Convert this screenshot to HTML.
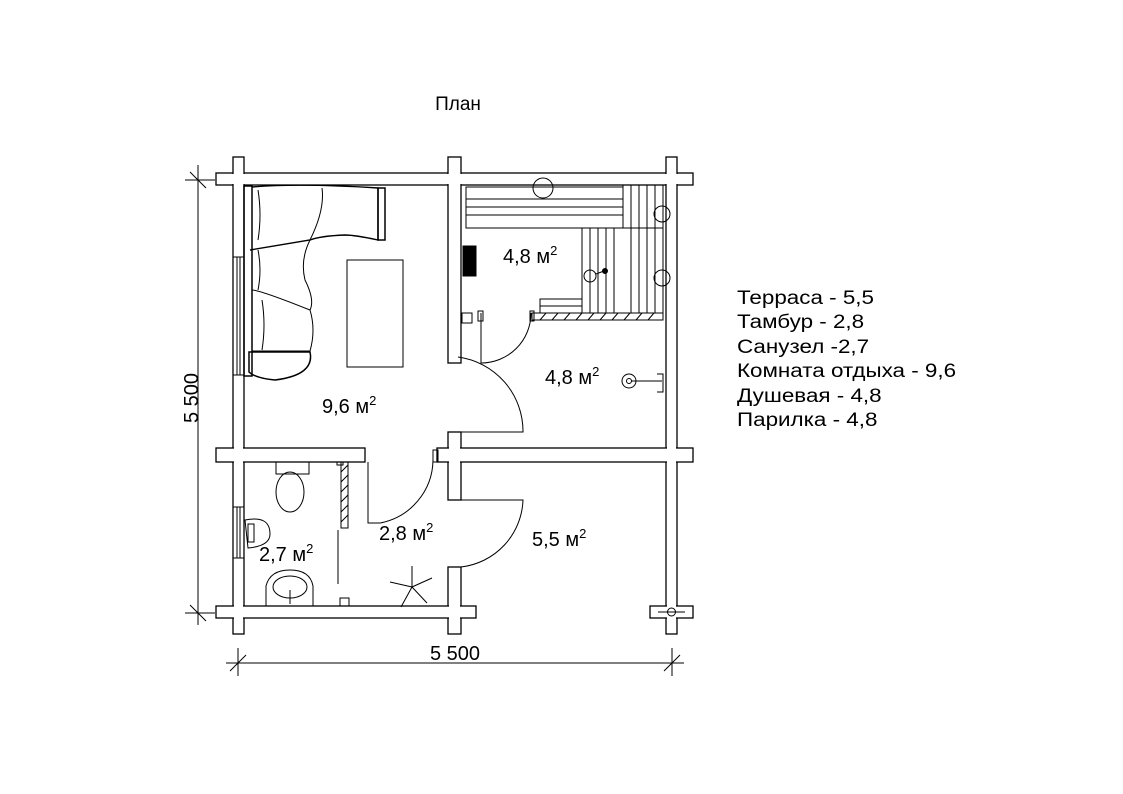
<!DOCTYPE html>
<html><head><meta charset="utf-8"><style>
html,body{margin:0;padding:0;background:#fff;}
svg{display:block;}
text{font-family:"Liberation Sans",Arial,sans-serif;fill:#000;}
</style></head><body>
<svg width="1123" height="794" viewBox="0 0 1123 794" xmlns="http://www.w3.org/2000/svg">
<text x="458" y="110" font-size="19" text-anchor="middle">План</text>

<g fill="#fff" stroke="#000" stroke-width="1.3">
<rect x="216" y="173" width="477" height="12"/>
<rect x="233" y="157" width="11" height="477"/>
<rect x="448" y="157" width="13" height="206"/>
<rect x="448" y="432" width="13" height="68"/>
<rect x="448" y="567" width="13" height="67"/>
<rect x="666" y="157" width="11" height="477"/>
<rect x="216" y="448" width="149" height="14"/>
<rect x="437" y="448" width="256" height="14"/>
<rect x="216" y="606" width="260" height="12"/>
<rect x="650" y="606" width="43" height="12"/>
</g>
<g fill="#fff">
<rect x="217" y="174" width="475" height="10"/>
<rect x="234" y="158" width="9" height="475"/>
<rect x="449" y="158" width="11" height="204"/>
<rect x="449" y="433" width="11" height="66"/>
<rect x="449" y="568" width="11" height="65"/>
<rect x="667" y="158" width="9" height="475"/>
<rect x="217" y="449" width="147" height="12"/>
<rect x="438" y="449" width="254" height="12"/>
<rect x="217" y="607" width="258" height="10"/>
<rect x="651" y="607" width="41" height="10"/>
</g>
<circle cx="671.5" cy="612" r="4" fill="none" stroke="#000"/>
<line x1="658" y1="612" x2="685" y2="612" stroke="#000"/>

<g fill="none" stroke="#000" stroke-width="1">
<rect x="233" y="257" width="11" height="118"/><line x1="237" y1="257" x2="237" y2="375"/><line x1="240" y1="257" x2="240" y2="375"/>
<rect x="233" y="507" width="11" height="51"/><line x1="237" y1="507" x2="237" y2="558"/><line x1="240" y1="507" x2="240" y2="558"/>

<rect x="347" y="260" width="56" height="107"/>
<rect x="244" y="186" width="8" height="190" stroke-width="1.5"/>
<rect x="378" y="188" width="7" height="52" stroke-width="1.5"/>
<path d="M252 187 Q300 183 378 188 L378 240 Q355 235 345 235 Q320 236 310 240 L250 250" stroke-width="1.4"/>
<path d="M322 188 Q325 210 310 240 Q300 260 305 280 Q315 300 310 310 Q260 290 252 290"/>
<path d="M310 310 Q316 330 310 351 L252 351"/>
<path d="M249 352 L310 352 Q315 375 275 380 Q255 378 249 372 Z" stroke-width="1.5"/>
<path d="M258 190 Q262 215 258 240 M258 250 Q262 270 258 290 M262 300 Q266 325 262 350"/>

<rect x="466" y="187" width="157" height="41"/>
<line x1="466" y1="199" x2="623" y2="199"/><line x1="466" y1="207" x2="623" y2="207"/><line x1="466" y1="215" x2="623" y2="215"/>
<rect x="582" y="228" width="81" height="85"/>
<rect x="623" y="185" width="40" height="43"/>
<line x1="590" y1="228" x2="590" y2="313"/><line x1="598" y1="228" x2="598" y2="313"/><line x1="606" y1="228" x2="606" y2="313"/><line x1="614" y1="228" x2="614" y2="313"/>
<line x1="631" y1="185" x2="631" y2="313"/><line x1="639" y1="185" x2="639" y2="313"/><line x1="647" y1="185" x2="647" y2="313"/><line x1="655" y1="185" x2="655" y2="313"/>
<rect x="540" y="299" width="42" height="14"/><line x1="540" y1="306" x2="582" y2="306"/>
<circle cx="543" cy="188" r="10"/>
<circle cx="662" cy="214" r="8"/><circle cx="662" cy="278" r="8"/>
<circle cx="590" cy="276" r="6"/><line x1="596" y1="274" x2="604" y2="271"/><circle cx="605" cy="271" r="2.5" fill="#000"/>
<rect x="532" y="313" width="131" height="7"/>
<path d="M540 320 L546 313 M552 320 L558 313 M564 320 L570 313 M576 320 L582 313 M588 320 L594 313 M600 320 L606 313 M612 320 L618 313 M624 320 L630 313 M636 320 L642 313 M648 320 L654 313"/>
<rect x="463" y="246" width="13" height="30" fill="#000"/>
<circle cx="629" cy="381" r="7"/><circle cx="629" cy="381" r="2.5"/>
<line x1="631" y1="381" x2="662" y2="381"/><path d="M657 374 L663 374 L663 392 L657 392"/>

<path d="M448 432 L523 432 A75 75 0 0 0 458 357"/>
<path d="M481 313 L481 363 A50 50 0 0 0 531 313"/>
<rect x="478" y="311" width="5" height="10"/>
<rect x="530" y="311" width="4" height="10"/>
<rect x="462" y="313" width="10" height="10"/>
<path d="M368 462 L368 523 L380 523 A65 65 0 0 0 433 460"/>
<rect x="433" y="450" width="5" height="12"/>
<path d="M448 500 L523 500 A70 70 0 0 1 461 567"/>

<line x1="338" y1="530" x2="338" y2="584"/>
<rect x="341" y="462" width="7" height="66"/>
<path d="M341 472 L348 465 M341 482 L348 475 M341 492 L348 485 M341 502 L348 495 M341 512 L348 505 M341 522 L348 515"/>
<rect x="337" y="462" width="6" height="3"/>
<path d="M276 462 L309 462 L309 474 L276 474 Z"/>
<ellipse cx="290" cy="492" rx="14" ry="20"/>
<path d="M245 520 Q270 515 270 534 Q270 546 248 548 Z"/>
<rect x="248" y="524" width="6" height="18"/>
<path d="M266 606 L266 586 Q270 570 290 570 Q310 570 313 586 L313 606"/>
<ellipse cx="290" cy="587" rx="17" ry="11"/>
<line x1="290" y1="590" x2="290" y2="604"/>
<rect x="340" y="598" width="9" height="8"/>
<path d="M412 566 L412 587 M390 582 L412 587 M432 578 L412 587 M401 607 L412 587 M427 603 L412 587"/>
</g>

<g font-size="20">
<text x="322" y="413">9,6 м<tspan font-size="13" dy="-8">2</tspan></text>
<text x="503" y="263">4,8 м<tspan font-size="13" dy="-8">2</tspan></text>
<text x="545" y="384">4,8 м<tspan font-size="13" dy="-8">2</tspan></text>
<text x="259" y="561">2,7 м<tspan font-size="13" dy="-8">2</tspan></text>
<text x="379" y="540">2,8 м<tspan font-size="13" dy="-8">2</tspan></text>
<text x="532" y="546">5,5 м<tspan font-size="13" dy="-8">2</tspan></text>
</g>

<g stroke="#000" stroke-width="1">
<line x1="198" y1="165" x2="198" y2="625"/>
<line x1="185" y1="180" x2="215" y2="180"/><line x1="190" y1="172" x2="206" y2="188"/>
<line x1="185" y1="613" x2="215" y2="613"/><line x1="190" y1="605" x2="206" y2="621"/>
<line x1="226" y1="663" x2="684" y2="663"/>
<line x1="238" y1="648" x2="238" y2="676"/><line x1="230" y1="671" x2="246" y2="655"/>
<line x1="672" y1="648" x2="672" y2="676"/><line x1="664" y1="671" x2="680" y2="655"/>
</g>
<text x="0" y="0" font-size="20" text-anchor="middle" transform="translate(198,398) rotate(-90)">5 500</text>
<text x="455" y="660" font-size="20" text-anchor="middle">5 500</text>

<g font-size="19" transform="translate(737,0) scale(1.18,1)">
<text x="0" y="304">Терраса - 5,5</text>
<text x="0" y="328">Тамбур - 2,8</text>
<text x="0" y="353">Санузел  -2,7</text>
<text x="0" y="377">Комната отдыха - 9,6</text>
<text x="0" y="402">Душевая - 4,8</text>
<text x="0" y="426">Парилка - 4,8</text>
</g>
</svg>
</body></html>
